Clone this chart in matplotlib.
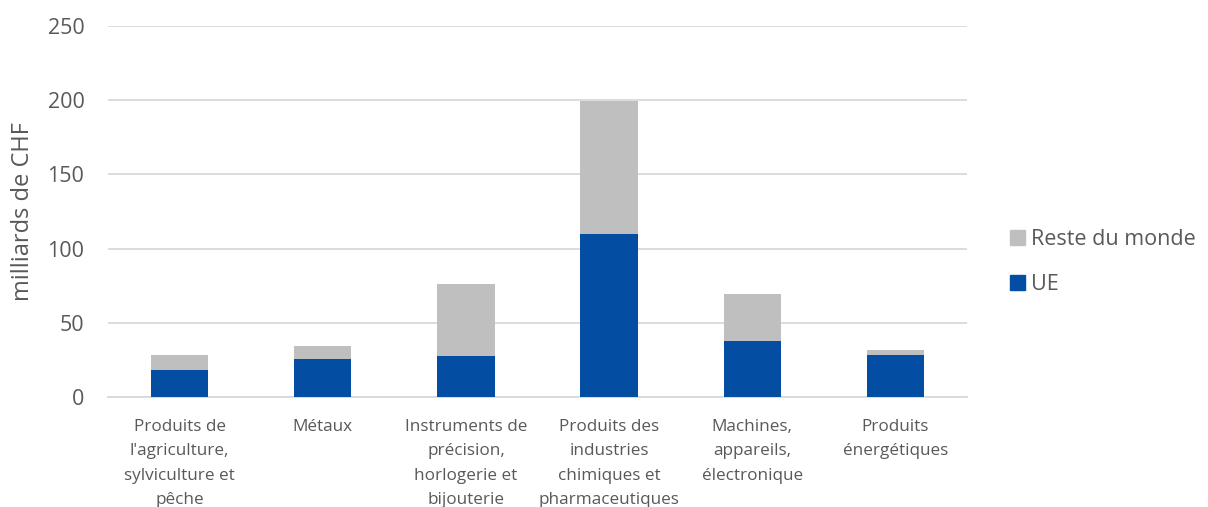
import numpy as np
import matplotlib
matplotlib.use('Agg')
import matplotlib.pyplot as plt
from matplotlib.patches import Patch

plt.rcParams.update({
    'font.family': ['Open Sans', 'DejaVu Sans'],
    'axes.edgecolor': '#D9D9D9',
})

categories = [
    "Produits de\nl'agriculture,\nsylviculture et\npêche",
    "Métaux",
    "Instruments de\nprécision,\nhorlogerie et\nbijouterie",
    "Produits des\nindustries\nchimiques et\npharmaceutiques",
    "Machines,\nappareils,\nélectronique",
    "Produits\nénergétiques",
]
ue = [18.2, 25.6, 27.8, 110.0, 37.7, 28.3]
total = [28.0, 34.6, 76.0, 199.7, 69.2, 31.5]
reste = [t - u for t, u in zip(total, ue)]

col_ue = '#034EA2'
col_reste = '#BFBFBF'
txt = '#595959'

fig = plt.figure(figsize=(12.08, 5.07), dpi=100)
ax = fig.add_axes([0.0894, 0.217, 0.7111, 0.7317])

x = np.arange(len(categories))
ax.bar(x, ue, width=0.4, color=col_ue, zorder=3)
ax.bar(x, reste, width=0.4, bottom=ue, color=col_reste, zorder=3)

ax.set_xlim(-0.5, len(categories) - 0.5)
ax.set_ylim(0, 250)
ax.set_yticks(np.arange(0, 251, 50))
ax.yaxis.grid(True, color='#D9D9D9', linewidth=1.3, zorder=0)
for s in ['top', 'right', 'left']:
    ax.spines[s].set_visible(False)
ax.spines['bottom'].set_color('#D9D9D9')
ax.spines['bottom'].set_linewidth(1.3)
ax.tick_params(axis='both', length=0)
ax.tick_params(axis='y', labelsize=15.5, colors=txt, pad=17)
ax.set_xticks(x)
ax.set_xticklabels(categories, fontsize=12.3, color=txt, linespacing=1.68, va='top')
ax.tick_params(axis='x', pad=16)
ax.set_ylabel('milliards de CHF', fontsize=17, color=txt, labelpad=9)

handles = [Patch(color=col_reste, label='Reste du monde'),
           Patch(color=col_ue, label='UE')]
fig.legend(handles=handles, loc='center left', bbox_to_anchor=(0.820, 0.483),
           frameon=False, fontsize=15.5, labelcolor=txt, handlelength=0.7,
           handleheight=0.7, handletextpad=0.3, labelspacing=1.15)

fig.savefig('out.png', dpi=100)
